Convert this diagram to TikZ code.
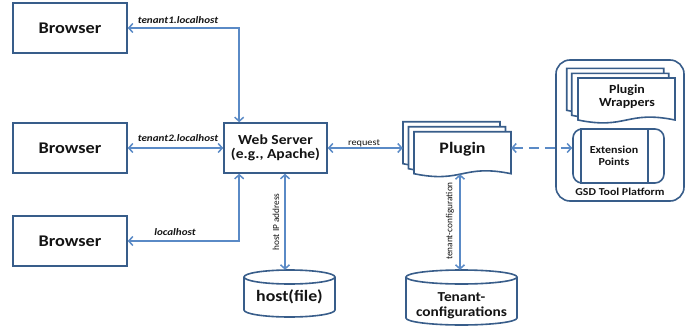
\documentclass[tikz,border=0pt]{standalone}
\usepackage{fontspec}
\setmainfont{Carlito}[FakeStretch=1.12]
\newfontfamily\plainfont{Carlito}
\usetikzlibrary{arrows.meta,calc}
\definecolor{boxc}{HTML}{385D8A}
\definecolor{arrowc}{HTML}{5A8AC6}
\definecolor{txtc}{HTML}{141414}
\tikzset{
  boxline/.style={draw=boxc, line width=1.6pt},
  box/.style={boxline, fill=white, minimum width=114pt, minimum height=50pt,
    inner sep=0pt, font=\bfseries\fontsize{16.3}{18}\selectfont, text=txtc},
  arr/.style={draw=arrowc, line width=1.5pt,
    {Straight Barb[length=4pt,width=9pt]}-{Straight Barb[length=4pt,width=9pt]}},
  lbl/.style={font=\bfseries\itshape\fontsize{9.9}{11}\selectfont, text=txtc, inner sep=0pt},
  rotlbl/.style={font=\plainfont\fontsize{9.3}{10}\selectfont, text=txtc, rotate=90, inner sep=0pt},
  bigtxt/.style={font=\bfseries\fontsize{#1}{#1}\selectfont, text=txtc, align=center, inner sep=0pt},
}
% one page of a document stack: left x, top y, width, height
\newcommand\docpage[4]{%
  \draw[boxline, fill=white] (#1,#2) -- ({#1+#3},#2) -- ({#1+#3},{#2-#4})
    .. controls ({#1+0.5*#3},{#2-#4+10}) and ({#1+0.5*#3},{#2-#4-10}) .. (#1,{#2-#4}) -- cycle;}
% a drum (database) outline: left x, right x, bottom y, top y, ellipse half-height
\newcommand\drum[5]{%
  \draw[boxline, fill=white] (#1,{#4-#5}) -- (#1,{#3+#5})
    arc[start angle=180, end angle=360, x radius={(#2-#1)/2*1pt}, y radius=#5 pt] -- (#2,{#4-#5});
  \draw[boxline, fill=white] ({(#1+#2)/2},{#4-#5}) ellipse [x radius={(#2-#1)/2*1pt}, y radius=#5 pt];}
\begin{document}
\begin{tikzpicture}[x=1pt,y=1pt]
\useasboundingbox (0,0) rectangle (699,333);

% browsers and the web server
\node[box] (b1) at (70,305) {Browser};
\node[box] (b2) at (70,185) {Browser};
\node[box] (b3) at (70,92) {Browser};
\node[box, minimum width=103pt, align=center,
      font=\bfseries\fontsize{13.9}{14}\selectfont] (ws) at (275.5,185) {Web Server\\(e.g., Apache)};

\draw[arr] (b1.east) -| ([xshift=16pt]ws.north west);
\node[lbl] (l1) at (178,313) {tenant1.localhost};
\draw[arr] (b2.east) -- (ws.west);
\node[lbl] (l2) at (178,195) {tenant2.localhost};
\draw[arr] (b3.east) -| ([xshift=16pt]ws.south west);
\node[lbl] (l3) at (175,101) {localhost};

% host file
\drum{244}{335}{16}{63}{7}
\node[minimum width=91pt, minimum height=47pt, inner sep=0pt] (host) at (289.5,39.5) {};
\node[bigtxt=15.9] (hosttxt) at (289.5,36) {host(file)};
\coordinate (hx) at (285,0);
\draw[arr] (ws.south -| hx) -- (host.north -| hx);
\node[rotlbl] (hostlbl) at (276,111) {host IP address};

% plugin stack
\docpage{403}{211.3}{97}{42}
\docpage{408.5}{206.3}{97}{42}
\docpage{414}{201.3}{97}{42}
\node[minimum width=108pt, minimum height=52pt, inner sep=0pt] (plugin) at (457,185) {};
\node[bigtxt=16] (plugintxt) at (462.5,184) {Plugin};
\draw[arr] (ws.east) -- (plugin.west);
\node[font=\fontsize{9.2}{10}\selectfont, text=txtc, inner sep=0pt] (req) at (364,190) {request};

% tenant configurations
\drum{406}{517}{8}{63}{7}
\node[minimum width=111pt, minimum height=55pt, inner sep=0pt] (tenant) at (461.5,35.5) {};
\node[bigtxt=13.7, font=\bfseries\fontsize{13.7}{15}\selectfont] (tenanttxt) at (461.5,27.5) {Tenant-\\configurations};
\coordinate (tx) at (460,0);
\draw[arr] (plugin.south -| tx) -- (tenant.north -| tx);
\node[rotlbl] (tenantlbl) at (450,112) {tenant-configuration};

% GSD tool platform
\node[boxline, rounded corners=14pt, minimum width=128pt, minimum height=141pt] (gsd) at (620,202.5) {};
\docpage{566.7}{264.7}{97}{42}
\docpage{571.7}{259.7}{97}{42}
\docpage{578}{255}{97}{42}
\node[bigtxt=12.4, font=\bfseries\fontsize{12.4}{13}\selectfont] (wraptxt) at (627,236.5) {Plugin\\Wrappers};
\node[boxline, fill=white, rounded corners=9pt, minimum width=91pt, minimum height=54pt] (ext) at (618.5,177) {};
\draw[boxline] ([xshift=9pt]ext.north west) -- ([xshift=9pt]ext.south west);
\draw[boxline] ([xshift=-17pt]ext.north east) -- ([xshift=-17pt]ext.south east);
\node[bigtxt=10.7, font=\bfseries\fontsize{10.7}{12}\selectfont] (exttxt) at (614,177) {Extension\\Points};
\node[bigtxt=10.6] (gsdtxt) at (620,141) {GSD Tool Platform};

\draw[arr, dash pattern=on 10pt off 6pt] (plugin.east) -- (plugin.east -| ext.west);
\end{tikzpicture}
\end{document}
